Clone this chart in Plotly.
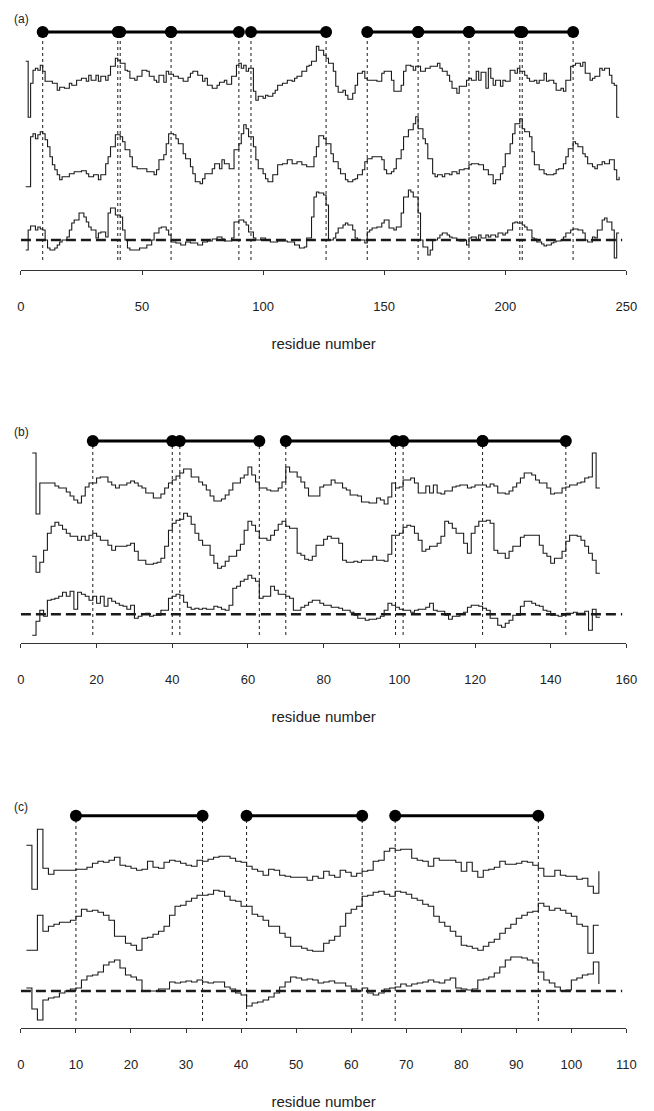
import plotly.graph_objects as go

W, H = 654, 1111

# ---------------- panel (a) ----------------
# (residue where the step starts, profile value)
A_TOP = [(2,56),(3,0),(4,34),(5,47),(6,49),(7,47),(8,52),(9,46),(10,36),(13,34),(15,27),(16,30),(18,29),(20,34),(21,32),(23,37),(25,39),(27,36),(28,42),(29,37),(31,42),(32,36),(33,41),(35,37),(36,42),(37,51),(39,59),(40,57),(41,54),(43,47),(44,46),(45,39),(47,37),(48,41),(50,47),(52,46),(53,41),(55,37),(56,35),(57,42),(59,35),(60,46),(61,43),(63,41),(65,39),(67,36),(69,40),(70,44),(71,46),(73,42),(75,36),(76,39),(77,32),(79,29),(81,32),(82,35),(84,37),(85,33),(87,41),(89,52),(90,54),(91,49),(92,52),(93,46),(94,49),(96,26),(97,17),(98,21),(100,19),(101,22),(102,21),(104,24),(105,27),(106,32),(108,34),(110,37),(112,36),(113,39),(114,41),(116,46),(118,51),(119,52),(120,56),(122,71),(123,67),(125,62),(126,59),(127,54),(129,46),(130,31),(131,25),(133,27),(134,22),(135,18),(137,24),(138,32),(139,44),(141,46),(142,39),(143,37),(147,36),(149,44),(150,46),(153,37),(154,26),(157,32),(158,46),(159,52),(161,51),(162,47),(163,51),(165,46),(167,49),(169,51),(172,54),(173,49),(174,46),(176,42),(177,36),(178,29),(180,24),(181,31),(184,37),(185,39),(186,37),(188,46),(189,37),(190,45),(192,29),(193,49),(194,39),(195,32),(196,37),(198,31),(199,37),(200,36),(202,47),(204,44),(205,49),(206,46),(208,42),(209,39),(210,36),(212,37),(213,34),(214,37),(216,44),(217,36),(218,37),(220,34),(221,27),(223,29),(224,26),(225,37),(227,51),(228,52),(229,54),(231,51),(232,55),(233,44),(235,37),(236,39),(237,41),(239,49),(240,47),(241,49),(243,42),(244,34),(245,32),(246,0),(247,0)]
A_MID = [(2,0),(4,50),(5,53),(6,48),(7,52),(8,55),(9,53),(10,47),(11,40),(12,30),(13,22),(14,17),(15,12),(16,7),(17,10),(20,13),(22,15),(25,16),(27,13),(28,10),(30,12),(32,7),(33,12),(35,23),(36,30),(37,40),(39,52),(41,50),(42,45),(43,37),(45,30),(46,20),(48,18),(52,15),(55,12),(56,17),(57,27),(59,32),(60,43),(61,53),(63,52),(64,48),(65,43),(67,33),(68,28),(70,20),(71,13),(72,5),(74,3),(75,8),(76,13),(79,18),(80,23),(82,18),(83,27),(84,23),(86,18),(88,37),(90,43),(91,53),(92,62),(93,58),(94,50),(96,40),(97,27),(98,18),(100,13),(101,8),(102,5),(104,12),(106,22),(108,23),(110,27),(112,23),(114,25),(116,22),(118,20),(121,30),(122,40),(123,51),(125,48),(126,43),(128,33),(129,25),(131,18),(132,13),(134,7),(135,5),(137,7),(138,8),(139,12),(141,17),(142,25),(143,28),(145,30),(149,27),(150,17),(151,13),(153,15),(154,18),(155,28),(157,37),(158,50),(160,57),(162,63),(163,70),(164,58),(166,48),(167,43),(168,28),(170,13),(171,10),(172,12),(174,10),(175,13),(177,12),(178,15),(180,13),(181,17),(183,18),(185,22),(186,23),(189,22),(191,17),(193,12),(195,3),(196,7),(198,13),(199,20),(200,33),(202,43),(203,53),(204,63),(206,68),(207,58),(208,55),(210,50),(211,35),(212,22),(214,17),(216,13),(217,12),(220,13),(221,17),(222,18),(224,23),(225,30),(226,38),(228,45),(229,43),(230,40),(232,33),(233,30),(234,23),(236,20),(237,18),(238,22),(240,25),(241,23),(243,27),(245,17),(246,7),(247,10)]
A_LOW = [(2,-10),(3,10),(4,14),(6,10),(7,13),(8,11),(9,10),(10,0),(11,-8),(12,-10),(14,-8),(15,-5),(16,-2),(17,0),(19,3),(20,10),(21,17),(22,20),(24,27),(26,23),(27,18),(28,13),(29,10),(31,2),(32,7),(33,8),(35,3),(36,27),(37,32),(39,25),(41,23),(42,10),(43,0),(44,-8),(45,-10),(49,-8),(52,-5),(54,0),(55,7),(57,12),(58,13),(60,10),(61,5),(62,-2),(64,-3),(66,-5),(68,-2),(70,-3),(73,-5),(75,-2),(77,-1),(79,1),(81,3),(83,1),(84,-1),(87,2),(88,18),(90,20),(92,18),(93,15),(94,8),(96,2),(97,0),(99,2),(101,0),(103,-2),(106,-1),(110,-2),(113,-5),(115,-8),(117,-7),(118,2),(120,23),(121,43),(122,48),(123,47),(125,45),(126,35),(127,0),(129,2),(130,7),(131,12),(133,15),(134,17),(135,15),(137,10),(138,2),(139,0),(142,-3),(143,8),(144,10),(145,12),(147,13),(149,17),(150,20),(152,12),(154,10),(155,13),(157,27),(158,43),(160,50),(161,48),(162,43),(164,27),(165,0),(166,-7),(168,-15),(169,-10),(170,0),(172,2),(173,5),(174,7),(176,5),(177,3),(178,2),(180,0),(181,-1),(183,0),(184,-5),(185,2),(186,3),(188,0),(189,5),(190,2),(192,5),(193,3),(194,5),(196,3),(197,7),(199,5),(200,7),(201,10),(203,17),(204,18),(205,17),(207,15),(208,13),(209,10),(211,2),(212,1),(213,-2),(215,-4),(216,-6),(217,-5),(219,-3),(220,-2),(221,-1),(223,0),(224,3),(225,7),(227,10),(228,11),(230,10),(232,7),(233,0),(234,-2),(236,3),(237,2),(238,10),(240,20),(241,22),(242,18),(244,10),(245,-18),(246,7),(247,7)]
A_SEGMENTS = [(9,40),(41,62),(62,90),(95,126),(143,164),(164,185),(185,206),(207,228)]
A_TICKS = [0, 50, 100, 150, 200, 250]

# ---------------- panel (b) ----------------
B_TOP = [(3,61),(4,0),(5,31),(9,28),(10,26),(12,22),(13,18),(14,14),(15,11),(16,18),(17,27),(18,31),(20,36),(21,37),(23,32),(24,29),(25,26),(26,29),(28,31),(29,33),(30,31),(31,28),(32,26),(33,21),(35,16),(37,20),(38,26),(39,31),(40,34),(41,38),(42,41),(43,45),(45,37),(47,32),(48,29),(49,24),(50,18),(51,13),(53,15),(54,19),(55,24),(56,31),(58,36),(59,39),(60,47),(61,39),(62,32),(63,26),(65,24),(66,23),(68,26),(69,32),(70,47),(71,42),(73,37),(74,32),(75,26),(76,18),(79,27),(80,29),(82,34),(83,31),(85,26),(86,24),(87,19),(89,18),(90,12),(92,11),(94,16),(95,14),(96,10),(97,17),(98,31),(99,26),(100,27),(101,34),(103,36),(104,31),(105,21),(107,28),(108,21),(109,29),(110,21),(111,20),(112,23),(114,27),(115,28),(116,29),(118,26),(119,27),(120,29),(123,27),(124,30),(125,28),(126,21),(128,20),(129,23),(130,27),(131,31),(132,36),(133,41),(135,39),(136,34),(137,31),(139,26),(140,20),(141,21),(143,26),(144,27),(145,29),(147,31),(148,32),(149,36),(150,37),(151,61),(152,26),(153,26)]
B_MID = [(3,17),(4,1),(5,11),(6,23),(7,40),(8,47),(9,51),(10,48),(11,44),(12,40),(13,37),(15,33),(16,37),(17,33),(18,38),(19,40),(20,37),(21,33),(23,28),(24,23),(25,27),(28,28),(29,30),(30,22),(31,13),(33,9),(35,10),(36,11),(37,15),(38,27),(39,43),(40,50),(41,53),(42,54),(43,60),(44,57),(45,49),(46,40),(47,33),(48,28),(50,18),(51,10),(52,5),(53,7),(54,12),(55,17),(57,23),(58,29),(59,43),(60,52),(61,48),(62,42),(63,35),(65,33),(66,38),(67,43),(68,49),(69,52),(70,47),(71,45),(73,20),(74,18),(75,14),(76,13),(77,17),(78,28),(80,34),(81,37),(82,35),(84,30),(85,13),(86,11),(88,12),(89,11),(90,13),(93,17),(94,13),(96,12),(97,19),(98,38),(100,40),(101,46),(102,48),(103,47),(104,40),(105,33),(106,22),(107,24),(108,27),(110,30),(111,37),(112,52),(113,50),(114,45),(115,40),(117,30),(118,20),(119,40),(120,47),(121,52),(123,53),(124,50),(125,23),(126,20),(128,15),(129,22),(130,27),(132,36),(133,38),(137,28),(138,20),(139,17),(140,10),(141,15),(143,22),(144,32),(145,38),(147,37),(148,33),(149,27),(150,20),(151,13),(152,0),(153,0)]
B_LOW = [(3,-21),(4,-7),(5,4),(6,-2),(7,14),(8,15),(9,16),(10,18),(11,22),(12,18),(13,23),(14,5),(15,22),(16,20),(17,18),(18,14),(19,18),(20,11),(21,18),(22,8),(23,16),(24,13),(25,11),(26,9),(27,8),(28,5),(29,9),(30,-4),(31,-2),(32,0),(33,1),(34,-2),(35,-1),(37,4),(39,16),(40,18),(41,20),(42,19),(43,12),(44,7),(45,5),(46,6),(47,5),(48,6),(49,5),(51,8),(52,7),(53,5),(54,4),(55,9),(56,26),(57,28),(58,33),(59,35),(60,39),(61,36),(62,33),(63,16),(64,18),(66,28),(67,24),(68,20),(70,18),(71,16),(72,4),(74,7),(75,9),(76,12),(77,14),(79,11),(80,9),(82,7),(84,6),(85,4),(87,2),(88,-1),(89,-4),(91,-6),(92,-5),(94,-4),(95,-2),(96,4),(97,11),(98,9),(99,7),(100,5),(101,4),(103,2),(104,4),(105,5),(107,7),(108,11),(109,4),(110,3),(112,-1),(113,-5),(114,-2),(116,0),(117,2),(118,7),(119,9),(121,8),(122,6),(123,4),(124,-4),(126,-11),(127,-13),(128,-9),(129,-6),(130,-1),(132,8),(133,13),(135,11),(136,9),(137,8),(138,4),(139,3),(140,-1),(142,-2),(143,-1),(144,1),(146,2),(147,1),(149,3),(150,-16),(151,5),(152,-3),(153,-3)]
B_SEGMENTS = [(19,40),(42,63),(70,99),(101,122),(122,144)]
B_TICKS = [0, 20, 40, 60, 80, 100, 120, 140, 160]

# ---------------- panel (c) ----------------
C_TOP = [(1,44),(2,0),(3,60),(4,21),(5,15),(6,19),(10,20),(12,22),(13,26),(14,28),(15,27),(16,29),(17,32),(18,24),(19,23),(20,21),(21,19),(22,20),(23,28),(24,22),(25,21),(26,27),(27,29),(28,28),(29,26),(30,24),(31,23),(32,29),(33,28),(34,30),(35,32),(36,33),(38,31),(39,28),(40,27),(41,23),(42,20),(43,18),(44,14),(45,20),(46,19),(47,14),(48,13),(49,12),(52,9),(53,13),(54,11),(55,18),(56,14),(57,12),(58,19),(59,17),(60,13),(61,16),(62,18),(63,19),(64,28),(65,29),(66,38),(67,41),(68,39),(69,40),(71,31),(72,29),(73,28),(74,23),(75,31),(76,29),(78,29),(79,27),(80,18),(81,27),(82,18),(83,12),(84,19),(85,20),(86,22),(87,28),(88,25),(90,26),(91,28),(92,27),(93,24),(94,21),(95,13),(97,19),(98,14),(99,13),(101,10),(102,11),(103,3),(104,-4),(105,18)]
C_MID = [(1,3),(3,38),(4,22),(5,27),(6,29),(7,31),(9,33),(10,37),(11,44),(12,42),(13,43),(14,41),(15,38),(16,33),(17,17),(19,10),(20,8),(21,3),(22,15),(23,16),(24,19),(25,22),(26,27),(27,38),(28,47),(29,48),(30,52),(31,55),(32,58),(34,59),(35,63),(36,62),(37,57),(38,53),(39,52),(40,47),(42,39),(43,37),(44,33),(45,27),(47,20),(48,16),(49,7),(51,5),(52,3),(53,2),(55,10),(56,13),(57,17),(58,27),(59,40),(60,44),(61,47),(62,57),(63,58),(64,61),(65,62),(66,59),(67,57),(68,62),(69,61),(70,59),(71,55),(72,53),(73,49),(74,47),(75,37),(76,31),(77,27),(78,22),(79,17),(80,8),(81,7),(82,5),(83,3),(84,7),(85,11),(86,14),(87,20),(88,25),(89,29),(90,35),(91,38),(92,41),(93,42),(94,50),(95,47),(96,43),(97,45),(98,43),(99,40),(100,37),(101,29),(102,27),(103,0),(104,28),(105,28)]
C_LOW = [(1,3),(2,-18),(3,-29),(4,-9),(5,-7),(6,-6),(7,-2),(8,0),(9,2),(10,3),(11,11),(12,15),(13,16),(14,19),(15,26),(16,29),(17,31),(18,23),(19,16),(20,14),(21,11),(22,0),(25,2),(27,9),(28,8),(29,9),(30,10),(31,9),(32,11),(33,9),(34,8),(35,9),(37,4),(38,2),(39,-2),(40,-4),(41,-15),(42,-12),(43,-11),(44,-9),(45,-6),(46,-2),(47,4),(48,9),(49,14),(50,13),(51,11),(52,12),(53,11),(54,8),(55,9),(56,10),(57,8),(59,5),(60,2),(61,0),(62,3),(63,-2),(64,-4),(65,-2),(66,2),(67,3),(68,4),(69,7),(70,5),(71,7),(72,8),(73,9),(74,11),(75,9),(76,8),(77,11),(78,13),(79,3),(80,2),(81,1),(82,2),(83,11),(84,12),(85,14),(86,18),(87,24),(88,31),(89,34),(91,33),(92,31),(93,28),(94,19),(95,11),(96,8),(97,4),(98,0),(99,1),(100,11),(101,13),(102,16),(103,17),(104,29),(105,7)]
C_SEGMENTS = [(10,33),(41,62),(68,94)]
C_TICKS = [0, 10, 20, 30, 40, 50, 60, 70, 80, 90, 100, 110]

# Layout of each panel (pixel geometry of the page)
PANELS = [
    dict(tag="(a)", top=A_TOP, mid=A_MID, low=A_LOW, segs=A_SEGMENTS, ticks=A_TICKS,
         axis_px=270, offsets=(152.7, 83.3, 30.0), bar=238, drop=10, tag_px=19),
    dict(tag="(b)", top=B_TOP, mid=B_MID, low=B_LOW, segs=B_SEGMENTS, ticks=B_TICKS,
         axis_px=643.3, offsets=(129.3, 70.0, 29.0), bar=202.3, drop=8.3, tag_px=432),
    dict(tag="(c)", top=C_TOP, mid=C_MID, low=C_LOW, segs=C_SEGMENTS, ticks=C_TICKS,
         axis_px=1028.3, offsets=(139.0, 75.0, 37.3), bar=212.6, drop=7.3, tag_px=807),
]

PANEL_H = 250          # y-axis units == pixels
X0_PX, X1_PX = 17.3, 637.0
INK = "#1a1a1a"
FONT = "Liberation Sans, Arial, Helvetica, sans-serif"

fig = go.Figure()
layout = {}
annotations = []

for i, p in enumerate(PANELS):
    n = "" if i == 0 else str(i + 1)
    xa, ya = "x" + n, "y" + n
    xmax = p["ticks"][-1]

    # three step profiles
    for series, off in zip((p["top"], p["mid"], p["low"]), p["offsets"]):
        xs = [r for r, _ in series]
        ys = [off + v for _, v in series]
        fig.add_trace(go.Scatter(x=xs, y=ys, mode="lines", xaxis=xa, yaxis=ya,
                                 line=dict(shape="hv", color=INK, width=1.1),
                                 hoverinfo="skip", showlegend=False))

    # zero reference of the lowest profile
    fig.add_trace(go.Scatter(x=[0, xmax * 0.993], y=[p["offsets"][2]] * 2, mode="lines",
                             xaxis=xa, yaxis=ya,
                             line=dict(color=INK, width=2.6, dash="10px,5px"),
                             hoverinfo="skip", showlegend=False))

    # dotted drop lines at every segment boundary
    bounds = sorted({b for s in p["segs"] for b in s})
    dx, dy = [], []
    for b in bounds:
        dx += [b, b, None]
        dy += [p["drop"], p["bar"], None]
    fig.add_trace(go.Scatter(x=dx, y=dy, mode="lines", xaxis=xa, yaxis=ya,
                             line=dict(color=INK, width=1, dash="dot"),
                             hoverinfo="skip", showlegend=False))

    # segment bars with end points
    for s, e in p["segs"]:
        fig.add_trace(go.Scatter(x=[s, e], y=[p["bar"], p["bar"]], mode="lines+markers",
                                 xaxis=xa, yaxis=ya,
                                 line=dict(color="black", width=3),
                                 marker=dict(color="black", size=12),
                                 hoverinfo="skip", showlegend=False))

    bottom = 1 - p["axis_px"] / H
    top = 1 - (p["axis_px"] - PANEL_H) / H
    layout["xaxis" + n] = dict(
        domain=[X0_PX / W, X1_PX / W], anchor=ya, range=[0, xmax],
        tickmode="array", tickvals=p["ticks"], ticktext=[str(t) for t in p["ticks"]],
        ticks="outside", ticklen=4, tickwidth=1, tickcolor="#333",
        showline=True, linecolor="#333", linewidth=1, mirror=False,
        showgrid=False, zeroline=False, fixedrange=True,
        tickfont=dict(family=FONT, size=13, color="#222"),
        ticklabelstandoff=20,
        title=dict(text="residue number", font=dict(family=FONT, size=15, color="#222"),
                   standoff=25),
    )
    layout["yaxis" + n] = dict(domain=[bottom, top], anchor=xa, range=[0, PANEL_H],
                               visible=False, fixedrange=True)
    annotations.append(dict(text=p["tag"], xref="paper", yref="paper", x=8 / W,
                            y=1 - p["tag_px"] / H, xanchor="left", yanchor="middle",
                            showarrow=False, font=dict(family=FONT, size=12, color="#222")))

fig.update_layout(width=W, height=H, margin=dict(l=0, r=0, t=0, b=0),
                  paper_bgcolor="white", plot_bgcolor="white",
                  annotations=annotations, **layout)

fig.write_html("out.html")
